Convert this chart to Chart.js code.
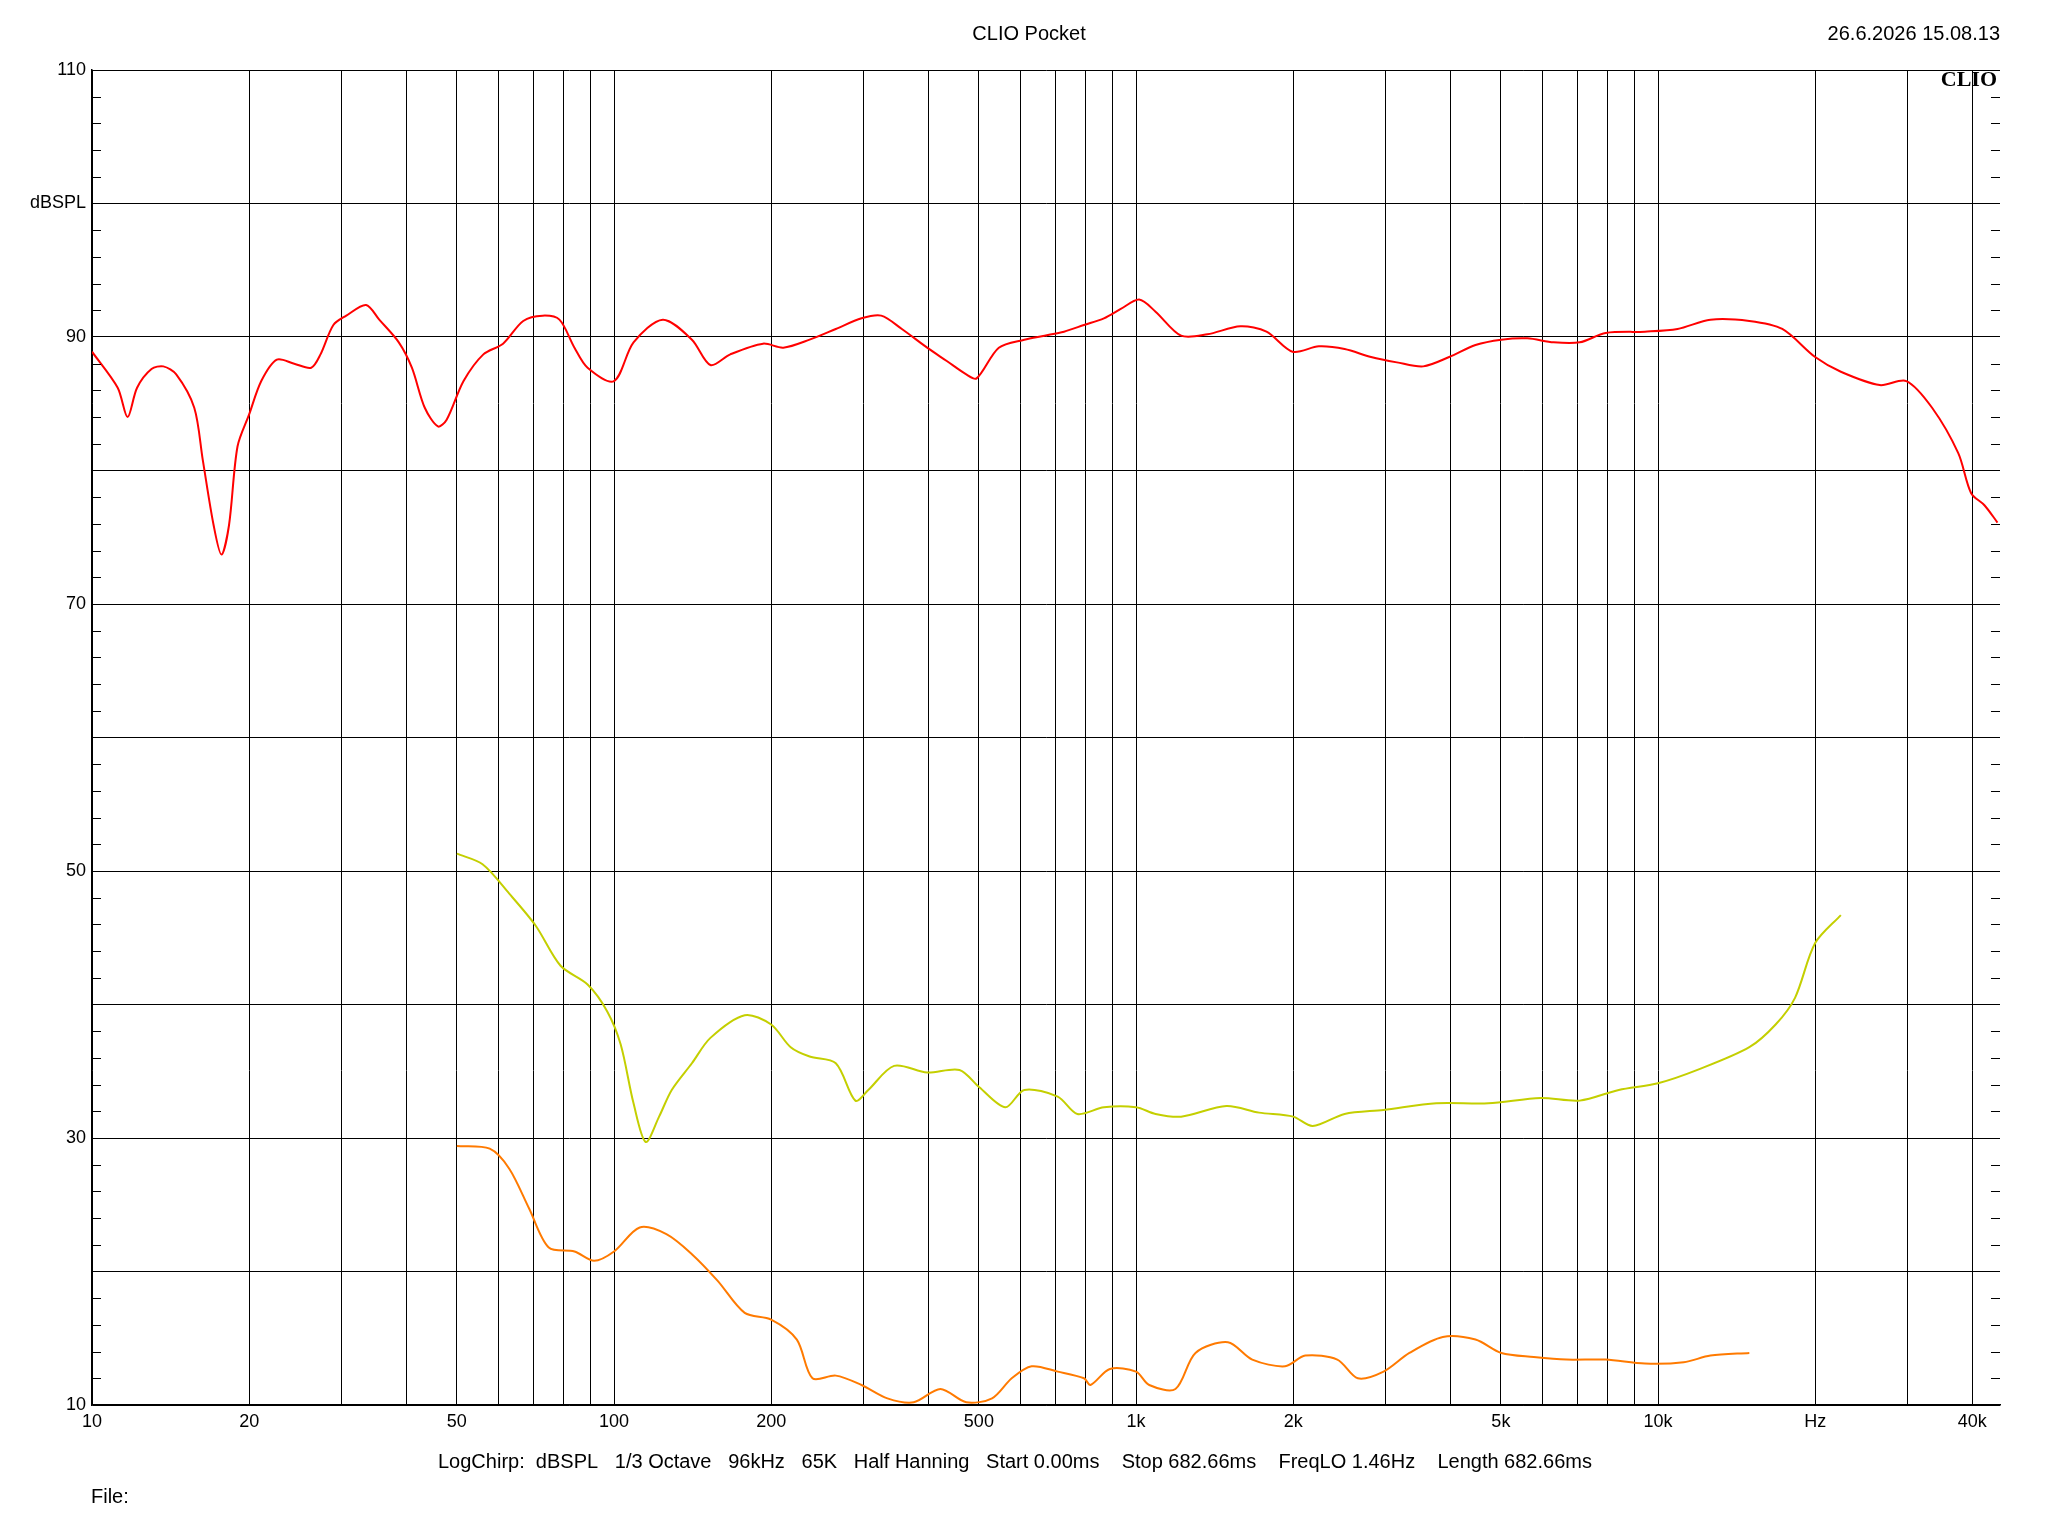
<!DOCTYPE html>
<html>
<head>
<meta charset="utf-8">
<script src="https://cdn.jsdelivr.net/npm/chart.js@4/dist/chart.umd.min.js"></script>
<style>
  html, body { margin: 0; padding: 0; background: #fff; }
  #wrap { width: 2048px; height: 1536px; }
</style>
</head>
<body>
<div id="wrap"><canvas id="c" width="2048" height="1536"></canvas></div>
<script>
// ── Data ──────────────────────────────────────────────────────────────────────
const redFreq = [10, 11.2, 11.7, 12.2, 13, 13.7, 14.5, 15.7, 16.3, 17.1, 17.7, 18.3, 19, 20, 21.1, 22.6, 24.4, 26.3, 27.4, 29, 30.7, 33.5, 35.5, 38.7, 41, 43.4, 46, 47.8, 51.5, 56.2, 61.3, 67, 73, 78.6, 84, 89, 100, 109, 124, 141, 153, 167, 193, 211, 237, 266, 298, 325, 356, 398, 434, 473, 495, 546, 611, 668, 728, 795, 868, 935, 1014, 1090, 1220, 1370, 1585, 1778, 1995, 2240, 2510, 2820, 3160, 3550, 3980, 4470, 5010, 5620, 6310, 7080, 7940, 9440, 10900, 12600, 14960, 17300, 20000, 22400, 26600, 29900, 33500, 37600, 39800, 42200, 44700];
const redDb = [88.9, 86.2, 84, 86.2, 87.6, 87.8, 87.2, 84.7, 80.8, 75.9, 73.7, 75.9, 81.8, 84.2, 86.7, 88.3, 88, 87.7, 88.7, 90.9, 91.6, 92.4, 91.3, 89.6, 87.7, 84.7, 83.3, 83.8, 86.7, 88.7, 89.5, 91.2, 91.6, 91.3, 89.2, 87.7, 86.7, 89.6, 91.3, 89.8, 87.9, 88.7, 89.5, 89.2, 89.8, 90.6, 91.4, 91.6, 90.6, 89.2, 88.2, 87.2, 86.9, 89.2, 89.8, 90.1, 90.4, 90.9, 91.4, 92.1, 92.8, 91.9, 90.1, 90.2, 90.8, 90.4, 88.9, 89.3, 89.1, 88.5, 88.1, 87.8, 88.5, 89.4, 89.8, 89.9, 89.6, 89.6, 90.3, 90.4, 90.6, 91.3, 91.2, 90.6, 88.5, 87.4, 86.4, 86.7, 84.7, 81.3, 78.3, 77.4, 76.1];

const yellowFreq = [50, 56, 63, 70.8, 79, 89, 97, 103, 109, 115, 122, 129, 141, 153, 178, 200, 218, 237, 266, 290, 307, 344, 398, 459, 501, 562, 611, 708, 772, 868, 1000, 1090, 1220, 1490, 1720, 2000, 2180, 2510, 2980, 3760, 4730, 5960, 7080, 8410, 10000, 11900, 14960, 16800, 18300, 20000, 22400];
const yellowDb = [51.3, 50.5, 48.3, 45.9, 42.9, 41.5, 39.5, 37.0, 32.6, 29.7, 31.6, 33.6, 35.6, 37.5, 39.2, 38.5, 36.8, 36.1, 35.6, 32.8, 33.6, 35.4, 34.9, 35.1, 33.8, 32.3, 33.6, 33.1, 31.8, 32.3, 32.3, 31.8, 31.6, 32.4, 31.9, 31.6, 30.9, 31.8, 32.1, 32.6, 32.6, 33, 32.8, 33.6, 34.1, 35.1, 36.8, 38.5, 40.5, 44.6, 46.7];

const orangeFreq = [50, 57.8, 63, 68.8, 75, 84, 91.6, 100, 112, 126, 141, 158, 178, 200, 224, 240, 266, 298, 334, 375, 422, 473, 530, 578, 631, 708, 795, 818, 891, 1000, 1060, 1190, 1300, 1500, 1670, 1930, 2110, 2430, 2660, 2980, 3340, 3870, 4470, 5010, 5780, 6680, 7940, 9440, 11200, 12600, 14960];
const orangeDb = [29.4, 29.2, 27.7, 24.7, 21.8, 21.5, 20.8, 21.5, 23.3, 22.8, 21.3, 19.3, 16.9, 16.4, 14.9, 12.0, 12.2, 11.5, 10.5, 10.2, 11.2, 10.2, 10.5, 12.0, 12.9, 12.5, 12.0, 11.5, 12.7, 12.5, 11.5, 11.2, 13.9, 14.7, 13.4, 12.9, 13.7, 13.4, 12.0, 12.5, 13.9, 15.1, 14.9, 13.9, 13.6, 13.4, 13.4, 13.1, 13.2, 13.7, 13.9];

const xGridValues = [10, 20, 30, 40, 50, 60, 70, 80, 90, 100, 200, 300, 400, 500, 600, 700, 800, 900, 1000, 2000, 3000, 4000, 5000, 6000, 7000, 8000, 9000, 10000, 20000, 30000, 40000];
const xLabels = { 10: "10", 20: "20", 50: "50", 100: "100", 200: "200", 500: "500", 1000: "1k", 2000: "2k", 5000: "5k", 10000: "10k", 20000: "Hz", 40000: "40k" };
const yLabels = { 10: "10", 30: "30", 50: "50", 70: "70", 90: "90", 100: "dBSPL", 110: "110" };

const FONT = "'Liberation Sans', Arial, sans-serif";

function toPoints(freqs, dbs) {
    return freqs.map((f, i) => ({ x: f, y: dbs[i] }));
}

// ── Extra decorations: minor y ticks, header/footer texts, logo ──────────────
const decorations = {
    id: "decorations",
    afterDraw(chart) {
        const { ctx, chartArea: a, scales: { y } } = chart;
        ctx.save();
        ctx.strokeStyle = "#000";
        ctx.lineWidth = 1;
        for (let v = 12; v < 110; v += 2) {
            if (v % 10 === 0) continue;
            const py = Math.round(y.getPixelForValue(v)) + 0.5;
            const len = 9;
            ctx.beginPath();
            ctx.moveTo(a.left, py); ctx.lineTo(a.left + len, py);
            ctx.moveTo(a.right, py); ctx.lineTo(a.right - len, py);
            ctx.stroke();
        }
        ctx.fillStyle = "#000";
        ctx.font = `20px ${FONT}`;
        ctx.textBaseline = "middle";
        ctx.textAlign = "center";
        ctx.fillText("CLIO Pocket", 1029, 34);
        ctx.textAlign = "right";
        ctx.fillText("26.6.2026 15.08.13", a.right, 34);
        ctx.textAlign = "left";
        ctx.fillText("LogChirp:  dBSPL   1/3 Octave   96kHz   65K   Half Hanning   Start 0.00ms    Stop 682.66ms    FreqLO 1.46Hz    Length 682.66ms", 438, 1462);
        ctx.fillText("File:", 91, 1497);
        ctx.font = `bold 22px 'Liberation Serif', 'DejaVu Serif', serif`;
        ctx.textAlign = "right";
        ctx.fillText("CLIO", a.right - 3, 80);
        ctx.restore();
    },
};

new Chart(document.getElementById("c").getContext("2d"), {
    type: "line",
    data: {
        datasets: [
            { data: toPoints(redFreq, redDb), borderColor: "#ff0000" },
            { data: toPoints(yellowFreq, yellowDb), borderColor: "#c4cf00" },
            { data: toPoints(orangeFreq, orangeDb), borderColor: "#ff7a00" },
        ].map((d) => ({ ...d, borderWidth: 2, pointRadius: 0, tension: 0.3, fill: false })),
    },
    options: {
        responsive: false,
        animation: false,
        layout: { padding: { top: 70, right: 48, left: 0, bottom: 0 } },
        plugins: { legend: { display: false }, tooltip: { enabled: false } },
        scales: {
            x: {
                type: "logarithmic",
                min: 10,
                max: 45200,
                afterBuildTicks: (s) => { s.ticks = xGridValues.map((v) => ({ value: v })); },
                afterFit: (s) => { s.height = 131; },
                grid: { color: "#000", lineWidth: 1, drawTicks: false },
                border: { color: "#000", width: 1.5 },
                ticks: {
                    autoSkip: false, maxRotation: 0, padding: 6,
                    color: "#000", font: { family: FONT, size: 18 },
                    callback: (v) => xLabels[v] ?? "",
                },
            },
            y: {
                min: 10,
                max: 110,
                afterBuildTicks: (s) => { s.ticks = []; for (let v = 10; v <= 110; v += 10) s.ticks.push({ value: v }); },
                afterFit: (s) => { s.width = 92; },
                grid: { color: "#000", lineWidth: 1, drawTicks: false },
                border: { color: "#000", width: 1.5 },
                ticks: {
                    autoSkip: false, padding: 6,
                    color: "#000", font: { family: FONT, size: 18 },
                    callback: (v) => yLabels[v] ?? "",
                },
            },
        },
    },
    plugins: [decorations],
});
</script>
</body>
</html>
